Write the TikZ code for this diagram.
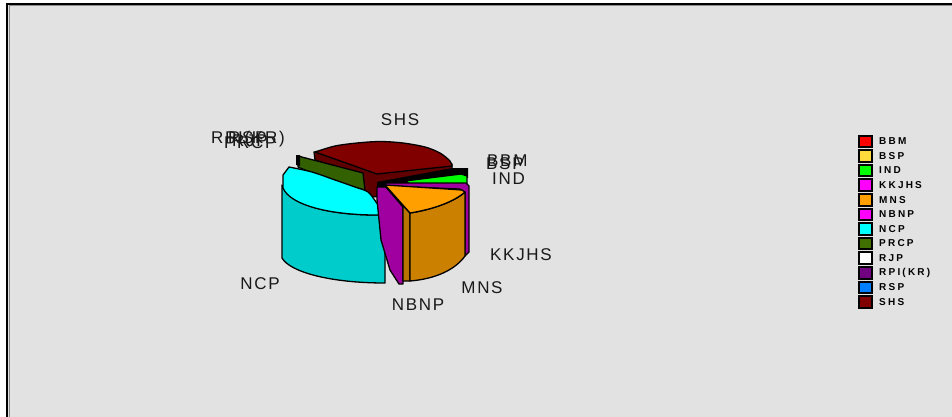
\documentclass[tikz,border=0pt]{standalone}
\usepackage{fontspec}
\setmainfont{Liberation Sans}
\newfontfamily\labfont[LetterSpace=10]{Liberation Sans}
\newfontfamily\legfont[LetterSpace=22]{Liberation Sans}
\definecolor{bgc}{RGB}{226,226,226}
\definecolor{cBBM}{RGB}{255,0,0}
\definecolor{cBSP}{RGB}{255,220,60}
\definecolor{cIND}{RGB}{0,255,0}
\definecolor{cKKJHS}{RGB}{255,0,255}
\definecolor{cMNS}{RGB}{255,160,0}
\definecolor{cNBNP}{RGB}{255,0,255}
\definecolor{cNCP}{RGB}{0,255,255}
\definecolor{cPRCP}{RGB}{64,112,0}
\definecolor{cRJP}{RGB}{255,255,255}
\definecolor{cRPI}{RGB}{112,0,128}
\definecolor{cRSP}{RGB}{0,128,255}
\definecolor{cSHS}{RGB}{128,0,0}
\definecolor{shsDark}{RGB}{96,0,0}
\definecolor{prcpDark}{RGB}{51,96,0}
\definecolor{magDark}{RGB}{160,0,160}
\definecolor{ncpSide}{RGB}{0,204,204}
\definecolor{mnsSide}{RGB}{204,128,0}
\definecolor{mnsCut}{RGB}{185,115,0}
\begin{document}
\begin{tikzpicture}[x=1pt,y=-1pt,
  face/.style={draw=black,line width=1.3,line join=round},
  lab/.style={font=\labfont\fontsize{17}{20}\selectfont,inner sep=0pt,text=black!90},
  leg/.style={font=\legfont\bfseries\fontsize{10}{12}\selectfont,inner sep=0pt,anchor=west,text=black},
  legbox/.style={draw=black,line width=2}]
\useasboundingbox (0,0) rectangle (952,417);
\fill[white] (0,0) rectangle (952,417);
\fill[bgc] (6,3) rectangle (952,417);
\draw[black,line width=2] (7,417) -- (7,4) -- (952,4);
\draw[black!45,line width=1] (9.5,417) -- (9.5,5.5) -- (952,5.5);

% filler behind the centre
\fill[black] (374,178) rectangle (392,192);

% SHS
\filldraw[face,fill=shsDark] (314,152) -- (315,160) -- (362,176) -- (364,196) -- (380,197) -- (381,182) -- (452,172) -- (452,164) -- cycle;
\filldraw[face,fill=cSHS] (315,152) -- plot[smooth,tension=0.5] coordinates {(315,152) (335,146) (357,143) (380,141.5) (403,143) (425,147) (440,153) (450,161) (452,166)} -- (377,174) -- cycle;

% PRCP and tiny slices
\filldraw[face,fill=prcpDark] (298,156) -- (363,173) -- (365,190) -- (352,187) -- (332,180) -- (312,173) -- (298,167) -- cycle;
\fill[black] (296,155) -- (300,155) -- (300,166) -- (296,165) -- cycle;

% BBM/BSP band, IND
\fill[black] (377,182) -- (452,168) -- (468,168) -- (468,178) -- (410,183) -- (388,186) -- (377,188) -- cycle;
\filldraw[face,fill=cIND] (405,181) -- (461,174) -- (467,176) -- (467,184) -- (410,184) -- cycle;

% KKJHS
\filldraw[face,fill=magDark] (386,183) -- (466,183) -- (469,186) -- (469,252) -- (465,256) -- (465,193) -- (460,189) -- (385,186) -- cycle;

% NCP
\filldraw[face,fill=ncpSide] (282,185) -- (282,258) .. controls (290,272) and (330,283) .. (385,283) -- (385,215) .. controls (330,216) and (290,205) .. (282,185) -- cycle;
\filldraw[face,fill=cNCP] (283,188) -- (283,175) -- plot[smooth,tension=0.5] coordinates {(289,167) (312,172) (335,180) (355,187) (368,192) (376,202) (382,211) (385,215)} .. controls (330,216) and (290,205) .. (283,188) -- cycle;

% NBNP
\filldraw[face,fill=magDark] (377,187) -- (386,187) -- (403,207) -- (403,284) -- (399,284) -- (390,270) -- (381,240) -- (377,200) -- cycle;

% MNS
\filldraw[face,fill=mnsCut] (385,186) -- (410,213) -- (410,281) -- (403,281) -- (403,206) -- cycle;
\filldraw[face,fill=mnsSide] (410,213) .. controls (435,209) and (455,201) .. (465,192) -- (465,256) .. controls (455,270) and (435,279) .. (410,281) -- cycle;
\filldraw[face,fill=cMNS] (385,185) -- (462,190) -- (465,192) .. controls (455,201) and (435,209) .. (410,213) -- cycle;

% slice labels
\node[lab] (lSHS) at (400,120) {SHS};
\node[lab] (lNCP) at (260,284) {NCP};
\node[lab] (lNBNP) at (418,305) {NBNP};
\node[lab] (lMNS) at (482,288) {MNS};
\node[lab] (lKKJHS) at (521,255) {KKJHS};
\node[lab,anchor=west] (lBBM) at (487,161) {BBM};
\node[lab,anchor=west] (lBSP) at (486,164) {BSP};
\node[lab,anchor=west] (lIND) at (492,179) {IND};
\node[lab,anchor=west] (lRPI) at (211,139) {RPI(KR)};
\node[lab,anchor=west] (lRSP) at (228,138) {RSP};
\node[lab,anchor=west] (lRJP) at (232,141) {RJP};
\node[lab,anchor=west] (lPRCP) at (224,143) {PRCP};

% legend
\foreach \c/\t [count=\i from 0] in {cBBM/BBM,cBSP/BSP,cIND/IND,cKKJHS/KKJHS,cMNS/MNS,cNBNP/NBNP,cNCP/NCP,cPRCP/PRCP,cRJP/RJP,cRPI/RPI(KR),cRSP/RSP,cSHS/SHS}{
  \pgfmathsetmacro{\yy}{141.3+14.6*\i}
  \filldraw[legbox,fill=\c] (859,\yy-5.8) rectangle (872,\yy+5.8);
  \node[leg] (leg\i) at (879,\yy) {\t};
}
\end{tikzpicture}
\end{document}
